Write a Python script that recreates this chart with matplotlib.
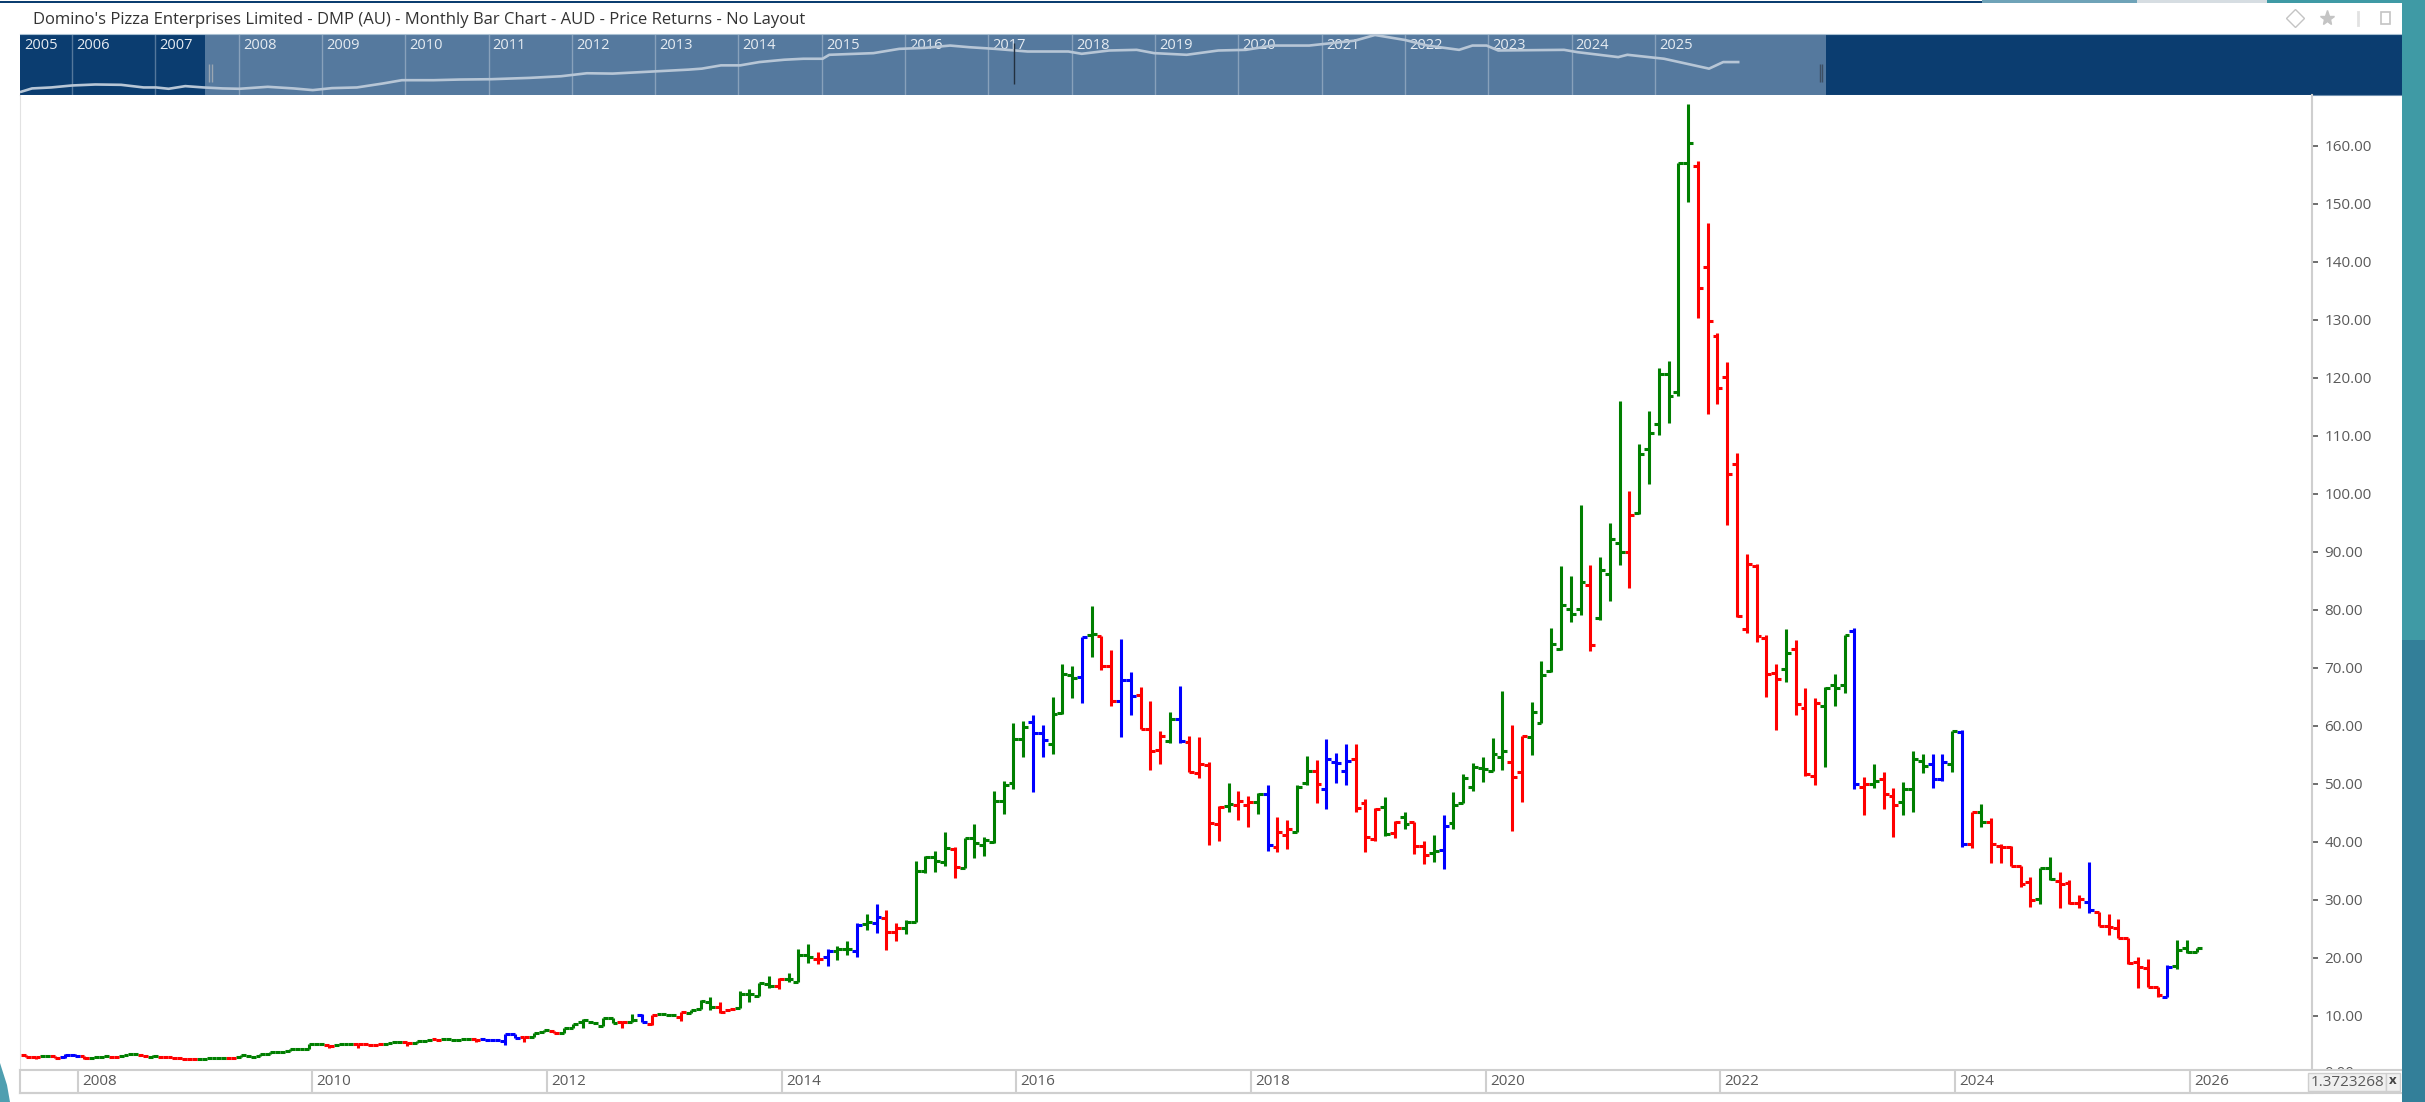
#!/usr/bin/env python3
# Monthly bar chart of DMP (AU) with navigator strip on top
import matplotlib
matplotlib.use("Agg")
import matplotlib.pyplot as plt
from matplotlib.patches import Polygon, Rectangle

plt.rcParams["font.family"] = ["Open Sans", "DejaVu Sans"]

W, H = 2425, 1102

# monthly bars, first one is Jul 2007
opens = [
    3.23, 2.94, 3.0, 3.0, 2.83, 3.23, 3.06, 2.65, 2.94, 2.94,
    3.11, 3.34, 3.28, 2.94, 2.94, 2.94, 2.65, 2.48, 2.48, 2.65,
    2.77, 2.71, 2.83, 3.11, 3.06, 3.46, 3.8, 3.92, 4.26, 4.2,
    5.12, 4.95, 5.0, 5.12, 5.12, 5.12, 4.95, 5.07, 5.53, 5.53,
    5.24, 5.7, 5.93, 5.93, 5.87, 5.93, 5.93, 5.93, 5.82, 5.64,
    6.85, 6.27, 6.27, 7.25, 7.42, 6.96, 7.94, 8.98, 8.98, 8.29,
    9.67, 8.86, 8.98, 10.13, 8.52, 10.24, 10.13, 9.72, 10.53, 11.1,
    12.43, 11.56, 10.99, 11.39, 13.74, 13.4, 15.41, 15.12, 16.27, 15.87,
    20.47, 19.84, 20.07, 21.22, 21.5, 21.1, 25.75, 25.93, 26.79, 24.49,
    25.06, 26.21, 34.95, 37.42, 36.44, 38.74, 35.41, 40.7, 39.43, 40.01,
    47.08, 50.06, 57.71, 60.7, 58.8, 56.85, 62.13, 68.74, 68.34, 75.64,
    75.47, 70.35, 64.26, 67.88, 65.3, 59.37, 55.81, 57.36, 61.16, 57.13,
    51.9, 53.17, 43.05, 46.16, 46.39, 46.39, 46.79, 48.23, 39.03, 41.1,
    41.73, 50.06, 52.25, 49.03, 53.8, 52.25, 54.2, 46.62, 40.41, 45.93,
    41.44, 44.32, 43.45, 39.26, 38.11, 38.57, 43.17, 46.62, 49.49, 52.65,
    52.25, 54.55, 53.8, 52.08, 57.99, 60.41, 69.49, 73.17, 80.13, 80.13,
    84.32, 78.6, 86.16, 91.52, 90.0, 96.63, 107.7, 111.96, 120.6, 117.57,
    156.98, 156.55, 139.12, 127.11, 120.15, 105.19, 76.74, 87.5, 75.06, 69.14,
    69.78, 73.17, 62.99, 51.33, 63.45, 67.02, 67.08, 76.33, 49.49, 49.95,
    50.81, 47.88, 46.79, 49.14, 53.92, 53.4, 50.75, 53.4, 58.97, 39.6,
    45.06, 43.45, 39.32, 39.14, 35.81, 33.11, 30.06, 35.41, 33.28, 32.94,
    29.37, 29.55, 27.94, 25.47, 25.18, 23.46, 19.2, 18.22, 15.01, 13.28,
    18.57, 21.62, 21.04,
]
highs = [
    3.23, 2.94, 3.0, 3.0, 3.34, 3.34, 3.06, 2.94, 3.0, 2.94,
    3.23, 3.46, 3.28, 3.23, 2.94, 2.94, 2.65, 2.48, 2.54, 2.71,
    2.77, 2.71, 3.17, 3.11, 3.4, 3.8, 3.8, 4.26, 4.26, 5.12,
    5.12, 4.95, 5.12, 5.12, 5.12, 5.12, 5.07, 5.24, 5.6, 5.53,
    5.64, 5.87, 5.93, 5.93, 5.93, 5.93, 5.93, 5.93, 5.82, 6.85,
    6.85, 6.39, 7.08, 7.54, 7.42, 7.83, 8.52, 9.38, 8.98, 9.67,
    9.67, 9.15, 10.3, 10.3, 10.13, 10.24, 10.3, 10.7, 10.99, 12.71,
    13.17, 12.31, 11.1, 14.26, 14.55, 15.7, 16.85, 16.45, 17.42, 21.45,
    22.31, 21.04, 21.45, 22.02, 22.94, 26.04, 27.53, 29.26, 28.22, 26.04,
    26.5, 36.62, 37.54, 38.45, 41.62, 39.14, 40.58, 43.05, 40.75, 48.8,
    50.47, 60.41, 60.75, 61.84, 60.18, 65.01, 70.64, 70.29, 75.29, 80.64,
    75.47, 73.05, 74.95, 69.2, 66.61, 64.2, 59.09, 62.42, 66.9, 58.22,
    58.11, 53.8, 46.16, 50.06, 48.8, 47.88, 48.34, 49.78, 44.32, 43.74,
    49.78, 54.83, 54.09, 57.65, 55.35, 56.85, 56.85, 47.3, 45.81, 47.77,
    43.63, 45.18, 43.45, 40.12, 41.16, 44.6, 48.63, 51.67, 53.63, 54.66,
    57.82, 66.04, 60.18, 58.28, 64.15, 71.16, 76.85, 87.6, 85.8, 98.05,
    87.7, 89.06, 94.9, 116.0, 100.39, 108.64, 114.3, 121.69, 122.8, 157.04,
    167.26, 157.3, 146.63, 127.73, 122.68, 107.1, 89.67, 87.95, 75.58, 70.7,
    76.6, 74.78, 66.5, 64.83, 66.73, 68.86, 75.7, 76.79, 51.1, 53.4,
    51.96, 49.2, 50.24, 55.7, 55.12, 55.12, 55.12, 59.09, 59.26, 45.18,
    46.44, 44.14, 39.6, 39.32, 35.81, 33.97, 35.41, 37.42, 34.83, 33.4,
    30.81, 36.56, 27.94, 27.48, 26.61, 23.46, 20.18, 19.72, 15.01, 18.8,
    23.05, 23.05, 21.73,
]
lows = [
    2.94, 2.6, 3.0, 2.71, 2.65, 3.06, 2.54, 2.65, 2.94, 2.94,
    3.11, 3.34, 3.0, 2.94, 2.94, 2.71, 2.54, 2.48, 2.48, 2.65,
    2.77, 2.71, 2.83, 2.94, 3.06, 3.46, 3.8, 3.92, 4.26, 4.2,
    5.07, 4.49, 5.0, 5.12, 4.49, 4.95, 4.95, 5.07, 5.47, 4.78,
    5.24, 5.7, 5.76, 5.93, 5.76, 5.93, 5.53, 5.76, 5.76, 4.95,
    6.1, 5.53, 6.27, 7.25, 6.96, 6.96, 7.94, 7.83, 8.69, 8.29,
    8.69, 7.83, 8.98, 8.86, 8.4, 10.24, 10.13, 9.15, 10.53, 11.1,
    10.99, 10.41, 10.99, 11.39, 12.31, 13.4, 14.84, 14.61, 15.76, 15.76,
    19.03, 18.86, 18.57, 19.61, 20.47, 20.07, 24.78, 24.32, 21.33, 22.82,
    24.09, 26.21, 34.66, 34.83, 35.87, 33.8, 35.41, 37.25, 37.59, 39.72,
    44.78, 49.03, 54.66, 48.57, 54.66, 55.12, 62.02, 64.78, 63.97, 71.9,
    69.6, 63.4, 58.11, 61.85, 59.37, 52.36, 53.4, 57.08, 57.08, 52.02,
    50.93, 39.49, 40.18, 45.18, 43.74, 42.48, 44.78, 38.46, 38.28, 38.68,
    41.62, 49.78, 46.73, 45.64, 50.06, 49.83, 45.18, 38.23, 40.12, 41.04,
    40.64, 42.25, 37.88, 36.16, 36.56, 35.29, 42.25, 46.62, 48.8, 50.24,
    52.25, 52.36, 41.84, 46.9, 54.95, 60.41, 69.2, 73.05, 77.85, 79.08,
    72.82, 78.28, 81.42, 87.7, 83.76, 96.45, 101.68, 110.05, 112.2, 116.83,
    150.33, 130.3, 113.69, 115.54, 94.6, 78.77, 76.0, 74.5, 65.0, 59.26,
    67.5, 61.85, 51.33, 49.78, 52.94, 63.45, 65.7, 49.03, 44.55, 49.26,
    45.64, 40.87, 44.55, 45.18, 51.79, 49.2, 50.52, 52.02, 39.14, 38.86,
    42.59, 36.39, 36.39, 35.81, 32.25, 28.8, 29.2, 33.4, 28.63, 29.26,
    28.63, 27.76, 25.52, 23.91, 23.46, 18.86, 14.83, 15.01, 13.28, 13.28,
    18.11, 20.87, 21.04,
]
closes = [
    2.94, 2.83, 3.0, 2.71, 3.28, 3.06, 2.65, 2.94, 3.0, 2.94,
    3.23, 3.46, 3.0, 3.0, 2.94, 2.71, 2.54, 2.48, 2.54, 2.71,
    2.77, 2.71, 3.17, 2.94, 3.4, 3.8, 3.8, 4.26, 4.26, 5.12,
    5.07, 4.84, 5.12, 5.12, 5.07, 4.95, 5.07, 5.24, 5.47, 5.36,
    5.64, 5.87, 5.76, 5.93, 5.76, 5.93, 5.76, 5.76, 5.76, 6.85,
    6.1, 6.27, 7.08, 7.54, 6.96, 7.83, 8.52, 9.26, 8.69, 9.67,
    8.69, 8.86, 9.26, 8.86, 10.13, 10.24, 10.13, 10.59, 10.99, 12.6,
    11.45, 10.59, 11.1, 13.74, 13.74, 15.7, 15.12, 16.33, 16.27, 20.47,
    20.07, 19.84, 21.22, 21.5, 21.5, 25.64, 26.21, 26.96, 24.49, 25.06,
    26.21, 35.0, 37.42, 36.73, 38.86, 35.58, 40.58, 39.72, 40.29, 47.08,
    49.78, 57.71, 59.83, 58.8, 57.54, 61.96, 68.91, 68.17, 75.29, 75.81,
    70.35, 64.26, 67.88, 65.12, 59.37, 55.64, 58.28, 61.16, 57.42, 52.02,
    53.34, 43.17, 45.93, 46.5, 47.08, 46.79, 48.17, 39.43, 41.73, 42.25,
    49.37, 52.25, 49.89, 54.2, 53.63, 53.97, 45.87, 40.75, 45.7, 41.27,
    43.45, 42.99, 39.32, 37.71, 38.46, 42.77, 46.33, 51.04, 52.94, 52.53,
    55.06, 55.64, 51.21, 58.28, 62.42, 68.74, 74.03, 80.75, 79.2, 84.75,
    73.97, 86.84, 92.14, 90.0, 96.32, 106.85, 110.5, 120.6, 116.83, 157.04,
    160.55, 135.55, 129.76, 118.25, 103.47, 78.96, 87.83, 75.45, 68.91, 68.05,
    72.48, 63.68, 51.6, 63.86, 66.5, 66.44, 75.7, 49.95, 49.95, 50.47,
    48.23, 46.39, 49.14, 54.2, 53.11, 50.75, 53.8, 59.09, 39.6, 45.18,
    43.45, 39.55, 39.03, 35.81, 32.65, 29.95, 35.41, 33.51, 32.71, 29.37,
    30.12, 28.23, 25.52, 25.35, 23.46, 19.03, 18.34, 15.01, 13.57, 18.34,
    21.33, 20.93, 21.73,
]
# r = down, g = up, b = outside month
bar_codes = (
    "rrgrbbrggr" "ggrgrrrrgg" "grgggggggg" "grggrrrggr" "ggrgggrbbb"
    "brggrggggg" "grgbrggrgg" "grrggggrgg" "grbggbgbrr" "gggggrgggg"
    "gggbbgggbg" "rrbbrrrgbr" "rrrgrrgbrr" "ggrbbbrrrg" "rgrrgbgggg"
    "ggrrgggggg" "rgggrggggg" "grrrrrrrrr" "grrrgggbrg" "rrgggbbgbr"
    "grrrrrggrr" "rbrrrrrrrb" "ggg"
)
price_ticks = [10, 20, 30, 40, 50, 60, 70, 80, 90, 100, 110, 120, 130, 140, 150, 160]
axis_years = [2008, 2010, 2012, 2014, 2016, 2018, 2020, 2022, 2024, 2026]

# navigator line (whole history, log scale)
nav_years = [
    2005.39, 2005.52, 2005.75, 2006.0, 2006.28, 2006.59, 2006.86, 2007.01, 2007.16,
    2007.36, 2007.58, 2007.81, 2008.01, 2008.35, 2008.66, 2008.89, 2009.12, 2009.42,
    2009.73, 2009.96, 2010.34, 2010.65, 2011.03, 2011.49, 2011.87, 2012.18, 2012.49,
    2013.02, 2013.4, 2013.56, 2013.79, 2014.02, 2014.25, 2014.55, 2014.78, 2015.01,
    2015.09, 2015.62, 2015.93, 2016.24, 2016.54, 2016.77, 2017.08, 2017.47, 2017.96,
    2018.12, 2018.45, 2018.78, 2018.99, 2019.38, 2019.76, 2020.09, 2020.41, 2020.85,
    2021.4, 2021.64, 2022.0, 2022.27, 2022.65, 2022.81, 2022.98, 2023.12, 2023.91,
    2024.07, 2024.56, 2024.67, 2025.11, 2025.65, 2025.82, 2026.0,
]
nav_prices = [
    2.36, 3.03, 3.26, 3.78, 4.07, 3.97, 3.26, 3.26, 2.95,
    3.6, 3.26, 3.03, 2.95, 3.42, 3.03, 2.67, 3.1, 3.26,
    4.38, 5.62, 5.62, 5.9, 6.05, 6.68, 7.56, 9.46, 9.22,
    10.96, 12.41, 13.37, 17.1, 17.1, 21.9, 26.1, 28.1, 28.1,
    37.8, 42.8, 59.0, 63.6, 75.6, 66.8, 59.0, 48.4, 48.4,
    40.7, 52.2, 54.8, 42.8, 37.8, 52.2, 54.8, 75.6, 75.6,
    109.5, 167.0, 115.0, 75.6, 54.8, 75.6, 75.6, 52.2, 54.8,
    46.1, 31.8, 37.8, 28.1, 13.37, 21.9, 21.9,
]
nav_labels = list(range(2005, 2026))

BAR_COLORS = {"g": "#007f00", "r": "#ff0000", "b": "#0000ff"}
NAVY = "#0b3d70"
FADED = "#55799e"
TEXT = "#5a5a5a"
GRID = "#cfcfcf"


def px_axes(fig, left, top, right, bottom, **kw):
    """axes placed by pixel edges (y from the top)"""
    return fig.add_axes([left / W, 1 - bottom / H, (right - left) / W, (bottom - top) / H], **kw)


fig = plt.figure(figsize=(W / 100, H / 100), dpi=100, facecolor="white")

# page decoration in pixel coordinates
page = px_axes(fig, 0, 0, W, H)
page.set_xlim(0, W)
page.set_ylim(H, 0)
page.axis("off")
page.add_patch(Rectangle((2402, 0), 23, 640, color="#3f9aa5", lw=0))
page.add_patch(Rectangle((2402, 640), 23, 462, color="#337f99", lw=0))
page.add_patch(Polygon([(0, 1063), (7, 1085), (10, 1102), (0, 1102)], color="#4f9fb0", lw=0))
page.add_patch(Rectangle((0, 1), 1982, 2, color=NAVY, lw=0))
page.add_patch(Rectangle((1982, 0), 155, 3, color="#6fa3b8", lw=0))
page.add_patch(Rectangle((2137, 0), 130, 3, color="#d6dde2", lw=0))
page.add_patch(Rectangle((2267, 0), 135, 3, color="#3f9aa5", lw=0))
page.plot([2295], [18], marker="D", ms=9, mfc="none", mec="#c4c4c4", mew=1)
page.plot([2327], [18], marker="*", ms=11, color="#c4c4c4")
page.plot([2358, 2358], [12, 25], color="#e2e2e2", lw=2)
page.add_patch(Rectangle((2381, 12), 9, 12, fill=False, ec="#c4c4c4", lw=1.2))
page.text(33, 19.5, "Domino's Pizza Enterprises Limited - DMP (AU) - Monthly Bar Chart - AUD - Price Returns - No Layout",
          fontsize=12, color="#333333", va="center", ha="left")

# navigator
nav = px_axes(fig, 20, 34, 2403, 95, facecolor=NAVY)
nav.set_yscale("log")
nav.set_xlim(2005.376, 2033.98)
nav.set_ylim(1.85, 180)
nav.axvspan(2007.6, 2027.06, color=FADED, lw=0, zorder=1)
for yr in nav_labels[1:]:
    nav.axvline(yr, color="white", alpha=0.3, lw=1, zorder=2)
for yr in nav_labels:
    nav.annotate(str(yr), (max(yr, 2005.376), 1), xycoords=("data", "axes fraction"),
                 xytext=(3, -3), textcoords="offset points", va="top", ha="left",
                 fontsize=10.5, color="#e6ecf2", zorder=3)
nav.plot(nav_years, nav_prices, color="#b7c6d6", lw=1.9, zorder=4)
nav.vlines([2007.6 + 0.05, 2007.6 + 0.075], 5, 19, color="#9aa6b2", lw=1, zorder=5)
nav.vlines([2027.06 - 0.08, 2027.06 - 0.05], 5, 19, color="#3d4f63", lw=1, zorder=5)
nav.vlines([2017.31], 4.2, 90, color="#22303f", lw=1, zorder=5)
nav.set_xticks([])
nav.set_yticks([])
nav.minorticks_off()
for s in nav.spines.values():
    s.set_visible(False)
nav.spines["top"].set_visible(True)
nav.spines["top"].set_color("#a9c0d2")
nav.spines["bottom"].set_visible(True)
nav.spines["bottom"].set_color("#6f8fae")

# price panel, x in months from the first bar
ax = px_axes(fig, 20, 95, 2312, 1070, facecolor="white")
ax.set_xlim(-0.593, 233.8)
ax.set_ylim(0.638, 168.74)

months = list(range(len(opens)))
colors = [BAR_COLORS[c] for c in bar_codes]
stub = 0.5
ax.vlines(months, lows, highs, colors=colors, lw=2.2)
ax.hlines(opens, [m - stub for m in months], months, colors=colors, lw=2.2)
ax.hlines(closes, months, [m + stub for m in months], colors=colors, lw=2.2)

ax.yaxis.tick_right()
ax.set_yticks(price_ticks)
ax.set_yticklabels([f"{v:.2f}" for v in price_ticks])
ax.tick_params(axis="y", length=4, width=1.2, color="#555555", labelcolor=TEXT, labelsize=11, pad=5)
ax.set_xticks([])
for side in ("top", "bottom"):
    ax.spines[side].set_visible(False)
ax.spines["right"].set_color(GRID)
ax.spines["right"].set_linewidth(1.5)
ax.spines["left"].set_color("#e2e2e2")

# clipped zero label at the foot of the price scale
zero = fig.text(2324 / W, 1 - 1073.7 / H, "0.00", fontsize=11, color=TEXT, va="center", ha="left")
zero.set_clip_on(True)
zero.set_clip_box(Rectangle((2320, H - 1070), 60, 20, transform=None).get_extents())

# date strip under the chart
strip = px_axes(fig, 20, 1070, 2312, 1093, facecolor="white")
strip.set_xlim(ax.get_xlim())
strip.set_ylim(0, 1)
year_pos = [(yr - 2007.5) * 12 - 0.7 for yr in axis_years]
strip.vlines(year_pos, 0, 1, color=GRID, lw=1.5)
for yr, pos in zip(axis_years, year_pos):
    strip.annotate(str(yr), (pos, 0.5), xycoords="data", xytext=(3, 0), textcoords="offset points",
                   va="center", ha="left", fontsize=11, color=TEXT)
strip.set_xticks([])
strip.set_yticks([])
for s in strip.spines.values():
    s.set_color(GRID)
    s.set_linewidth(1.5)
strip.spines["right"].set_visible(False)

# scale factor box, bottom right
page.set_zorder(5)
page.add_patch(Rectangle((2312, 1070), 90, 23, fc="white", ec="none"))
page.plot([20, 2401], [1093, 1093], color=GRID, lw=1.5)
page.plot([2312, 2401], [1070, 1070], color=GRID, lw=1.5)
page.add_patch(Rectangle((2308, 1073), 78, 18, fc="#f0f0f0", ec=GRID, lw=1))
page.text(2311, 1082, "1.3723268", fontsize=11, color=TEXT, va="center", ha="left")
page.add_patch(Rectangle((2386, 1073), 14, 18, fc="#f0f0f0", ec=GRID, lw=1))
page.text(2393, 1081, "x", fontsize=9.5, color="#444444", va="center", ha="center", fontweight="bold")

fig.savefig("out.png", dpi=100)
